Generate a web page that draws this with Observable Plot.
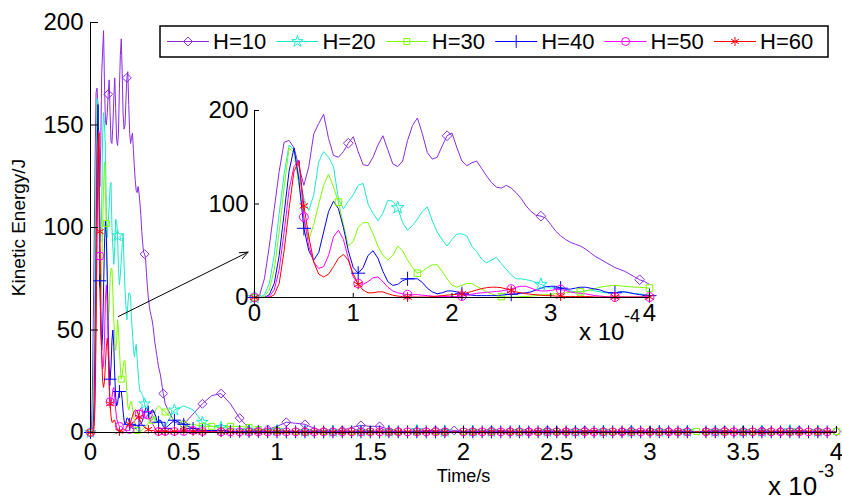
<!DOCTYPE html>
<html><head><meta charset="utf-8">
<script src="https://cdn.jsdelivr.net/npm/d3@7"></script>
<script src="https://cdn.jsdelivr.net/npm/@observablehq/plot@0.6"></script>
<style>
html,body{margin:0;padding:0;background:#fff;}
#wrap{position:relative;width:842px;height:500px;font-family:"Liberation Sans",Arial,sans-serif;overflow:hidden;}
#wrap > svg, #wrap > div{position:absolute;}
.lbl{position:absolute;white-space:nowrap;color:#000;line-height:1;}
</style></head><body><div id="wrap"></div>
<script>
// ---------- data (time in units of 1e-4 s, kinetic energy in J) ----------
const seriesNames = ["H=10","H=20","H=30","H=40","H=50","H=60"];
const seriesColors = ["#8a2be2","#1de9c9","#7cfc00","#0000ff","#ff00ff","#ff0000"];
const seriesSymbols = ["diamond2","star","square2","plus","circle","asterisk"];
const markerEvery = [0.975,1.45,0.83,0.52,0.52,0.52];

const timeE4 = [
0,0.05,0.1,0.15,0.2,0.25,0.3,0.35,0.4,0.45,
0.5,0.55,0.6,0.65,0.7,0.75,0.8,0.85,0.9,0.95,
1,1.05,1.1,1.15,1.2,1.25,1.3,1.35,1.4,1.45,
1.5,1.55,1.6,1.65,1.7,1.75,1.8,1.85,1.9,1.95,
2,2.05,2.1,2.15,2.2,2.25,2.3,2.35,2.4,2.45,
2.5,2.55,2.6,2.65,2.7,2.75,2.8,2.85,2.9,2.95,
3,3.05,3.1,3.15,3.2,3.25,3.3,3.35,3.4,3.45,
3.5,3.55,3.6,3.65,3.7,3.75,3.8,3.85,3.9,3.95,
4,
4.5,5,5.5,6,6.5,7,7.5,8,8.5,9,
9.5,10,10.5,11,11.5,12,12.5,13,13.5,14,
14.5,15,15.5,16,16.5,17,17.5,18,18.5,19,
19.5,20,20.5,21,21.5,22,22.5,23,23.5,24,
24.5,25,25.5,26,26.5,27,27.5,28,28.5,29,
29.5,30,30.5,31,31.5,32,32.5,33,33.5,34,
34.5,35,35.5,36,36.5,37,37.5,38,38.5,39,
39.5,40];

const h10 = [
0,2,20,55,95,135,166,168,160,140,
120,140,175,186,196,170,152,150,156,165,
172,156,142,141,150,163,173,158,143,140,
146,168,184,192,175,155,148,150,162,173,
176,160,146,141,144,146,138,130,123,118,
117,120,117,112,106,98,92,88,87,85,
78,71,66,62,59,57,55,52,48,44,
41,38,35,32,30,28,25,22,19,17,
14,
5,4,9,14,18,19,14,7,2,1,
1.5,3,5,4.5,4,2,0.5,0.5,1,2.5,
3.5,3,3,1.5,0.5,0.5,0.5,1,1,1.5,
1,0.5,0.5,0.5,1,1,0.5,0.5,0.5,1,
1,0.5,0.5,0.5,1,1,0.5,0.5,0.5,1,
1,0.5,0.5,0.5,1,0.5,0.5,0.5,1,1,
0.5,0.5,0.5,1,0.5,0.5,0.5,1,0.5,0.5,
0.5,0.5];

const h20 = [
0,0,3,15,45,90,132,163,158,130,
106,93,110,145,156,150,140,105,95,103,
110,120,122,100,90,82,90,104,103,96,
80,72,77,84,92,97,82,70,62,55,
62,68,68,66,55,49,41,37,40,43,
36,30,24,20,20,19,18,16,14,12,
10,11,11,9,7,6,6,7,8,7,
6,5,5,5,6,6,5,4,4,3,
3,
11,13,11,5,3,2.5,2,1.5,1,1,
1.5,1,1,0.5,0.5,1,1,0.5,0.5,0.5,
0.5,1,0.5,0.5,0.5,0.5,1,0.5,0.5,0.5,
0.5,0.5,0.5,1,0.5,0.5,0.5,0.5,0.5,0.5,
0.5,0.5,1,0.5,0.5,0.5,0.5,0.5,0.5,0.5,
0.5,0.5,0.5,0.5,1,0.5,0.5,0.5,0.5,0.5,
0.5,0.5,0.5,0.5,0.5,0.5,1,0.5,0.5,0.5,
0.5,0.5];

const h30 = [
0,0,1,8,30,70,118,160,155,120,
85,62,78,100,120,132,118,102,78,55,
60,75,80,80,68,55,45,40,45,55,
50,40,32,26,28,32,35,35,28,20,
13,11,13,15,15,12,9,6,4,2,
1,0.5,0.5,0.5,1,1,1.5,2,2.5,3,
3.5,4,4.5,5,5.5,6,6,7,8,9.5,
11,12,12.5,13,12.5,12,11.5,11,11,10.5,
10,
6,4,4,3,3,2.5,3,3,2.5,1.5,
1,1,0.5,0.5,0.5,0.5,0.5,0.5,0.5,0.5,
0.5,0.5,0.5,0.5,0.5,0.5,0.5,0.5,0.5,0.5,
0.5,0.5,0.5,0.5,0.5,0.5,0.5,0.5,0.5,0.5,
0.5,0.5,0.5,0.5,0.5,0.5,0.5,0.5,0.5,0.5,
0.5,0.5,0.5,0.5,0.5,0.5,0.5,0.5,0.5,0.5,
0.5,0.5,0.5,0.5,0.5,0.5,0.5,0.5,0.5,0.5,
0.5,0.5];

const h40 = [
0,0,0,3,15,45,90,135,160,125,
74,50,40,48,70,92,103,95,75,50,
32,26,32,45,50,42,28,17,13,14,
18,20,20,20,16,10,6,4,5,7,
7,6,4,3,2.5,2,2,2,2,2,
2.5,3,3.5,4,4.5,5,6,8,10,11.5,
12,12,10,9,9,10,11,11,10,9,
8,6,5,5,6,6,5,4,3,2.5,
2,
6,4,2,1,1,1,0.5,0.5,0.5,0.5,
0.3,0.3,0.3,0.3,0.3,0.3,0.3,0.3,0.3,0.3,
0.3,0.3,0.3,0.3,0.3,0.3,0.3,0.3,0.3,0.3,
0.3,0.3,0.3,0.3,0.3,0.3,0.3,0.3,0.3,0.3,
0.3,0.3,0.3,0.3,0.3,0.3,0.3,0.3,0.3,0.3,
0.3,0.3,0.3,0.3,0.3,0.3,0.3,0.3,0.3,0.3,
0.3,0.3,0.3,0.3,0.3,0.3,0.3,0.3,0.3,0.3,
0.3,0.3];

const h50 = [
0,0,0,1,8,30,70,115,140,147,
86,55,38,31,33,45,65,72,62,42,
22,15,14,17,21,22,17,11,7,5,
4,3,3,3,2.5,2,1.5,1,1,1,
1,1,1.5,2.5,3.5,4.5,5,5.5,6,6.5,
7,8,9,11,12,12,10,8,7,7,
7.5,8.5,8.5,7.5,6,5,4.5,4,3,2,
1.5,1,0.5,0.5,0.5,0.5,0.5,0.5,0.5,0.5,
0.5,
0.5,0.5,1,0.5,0.5,0.3,0.3,0.3,0.3,0.3,
0.3,0.3,0.3,0.3,0.3,0.3,0.3,0.3,0.3,0.3,
0.3,0.3,0.3,0.3,0.3,0.3,0.3,0.3,0.3,0.3,
0.3,0.3,0.3,0.3,0.3,0.3,0.3,0.3,0.3,0.3,
0.3,0.3,0.3,0.3,0.3,0.3,0.3,0.3,0.3,0.3,
0.3,0.3,0.3,0.3,0.3,0.3,0.3,0.3,0.3,0.3,
0.3,0.3,0.3,0.3,0.3,0.3,0.3,0.3,0.3,0.3,
0.3,0.3];

const h60 = [
0,0,0,0,3,15,50,95,135,146,
98,65,38,25,22,25,33,42,46,40,
25,14,8,5,5,6,6,4,2.5,1.5,
1,0.5,0.5,0.5,0.5,0.5,1,1.5,2,2.5,
3,3.5,4,5,6.5,8,9.5,10.5,11,11,
10.5,9,7.5,6,5,4,3.5,3,2.5,2,
2,1.5,1.5,1,1,1,1,1,1,0.5,
0.5,0.5,0.5,0.5,0.5,0.5,0.5,0.5,0.5,0.5,
0.5,
0.5,1,0.5,0.3,0.3,0.3,0.3,0.3,0.3,0.3,
0.3,0.3,0.3,0.3,0.3,0.3,0.3,0.3,0.3,0.3,
0.3,0.3,0.3,0.3,0.3,0.3,0.3,0.3,0.3,0.3,
0.3,0.3,0.3,0.3,0.3,0.3,0.3,0.3,0.3,0.3,
0.3,0.3,0.3,0.3,0.3,0.3,0.3,0.3,0.3,0.3,
0.3,0.3,0.3,0.3,0.3,0.3,0.3,0.3,0.3,0.3,
0.3,0.3,0.3,0.3,0.3,0.3,0.3,0.3,0.3,0.3,
0.3,0.3];

const mainXTicks = [0,0.5,1,1.5,2,2.5,3,3.5,4];     // units of 1e-3 s
const mainYTicks = [0,50,100,150,200];
const insetXTicks = [0,1,2,3,4];                      // units of 1e-4 s
const insetYTicks = [0,100,200];
const arrowPts = [{x1:0.15, y1:56.6, x2:0.845, y2:88}]; // main-plot data coords
const yLabel = "Kinetic Energy/J";
const xLabel = "Time/s";

// ---------- build ----------
const FONT = "'Liberation Sans', Arial, Helvetica, sans-serif";
const seriesValues = [h10,h20,h30,h40,h50,h60];
const rows = [];
seriesValues.forEach((vals,k)=>vals.forEach((v,i)=>{ if(i<timeE4.length) rows.push({t:timeE4[i], v, s:seriesNames[k]}); }));
function markerIdx(interval){
  const set = new Set();
  for(let n=0; n*interval <= 40.0001; n++){
    const m = n*interval; let best=0, bd=Infinity;
    timeE4.forEach((t,i)=>{const d=Math.abs(t-m); if(d<bd){bd=d;best=i;}});
    set.add(best);
  }
  return [...set];
}
const markRows = seriesValues.map((vals,k)=>markerIdx(markerEvery[k]).filter(i=>i<vals.length).map(i=>({t:timeE4[i], v:vals[i], s:seriesNames[k]})));
const markR = [4,3.6,3.8,4.2,4,4.2];
const color = {domain:seriesNames, range:seriesColors};
const wrap = document.getElementById("wrap");

function dotMarks(xf, filt, scale){
  return markRows.map((arr,k)=>Plot.dot(arr.filter(filt),{x:xf, y:"v", stroke:seriesColors[k], symbol:seriesSymbols[k], r:markR[k]*scale, fill:"none", strokeWidth:1}));
}

// main plot
const W=842,H=500,mL=90,mR=6,mT=22,mB=68;
const pW=W-mL-mR, pH=H-mT-mB;
const main = Plot.plot({
  width:W, height:H, marginLeft:mL, marginRight:mR, marginTop:mT, marginBottom:mB,
  style:{fontFamily:FONT, fontSize:"24px", background:"transparent", overflow:"visible", color:"#000"},
  x:{domain:[0,4]}, y:{domain:[0,200]}, color,
  marks:[
    Plot.line(rows,{x:d=>d.t/10, y:"v", z:"s", stroke:"s", strokeWidth:1}),
    ...dotMarks(d=>d.t/10, ()=>true, 1),
    Plot.ruleX([0],{stroke:"#000", strokeWidth:1}),
    Plot.ruleY([0],{stroke:"#000", strokeWidth:1}),
    Plot.tickY(mainYTicks,{y:d=>d, insetRight:pW-8, stroke:"#000"}),
    Plot.tickX(mainXTicks,{x:d=>d, insetTop:pH-6, stroke:"#000"}),
    Plot.axisX(mainXTicks,{tickSize:0, tickPadding:10, label:null, tickFormat:d=>String(d), fontSize:24}),
    Plot.axisY(mainYTicks,{tickSize:0, tickPadding:7, label:null, tickFormat:d=>String(d), fontSize:24}),
    Plot.arrow(arrowPts,{x1:"x1",y1:"y1",x2:"x2",y2:"y2", stroke:"#000", strokeWidth:1, headLength:13, headAngle:45}),
    Plot.text([yLabel],{frameAnchor:"left", textAnchor:"middle", lineAnchor:"middle", rotate:-90, dx:-72, fontSize:19}),
    Plot.text([xLabel],{frameAnchor:"bottom", textAnchor:"middle", lineAnchor:"middle", dy:44, fontSize:18})
  ]
});
main.style.left="0px"; main.style.top="0px";
wrap.appendChild(main);

// inset plot
const iL=50,iR=10,iT=10,iB=45,iW=455,iH=242;
const ipW=iW-iL-iR, ipH=iH-iT-iB;
const insetRows = rows.filter(d=>d.t<=4.0001);
const inset = Plot.plot({
  width:iW, height:iH, marginLeft:iL, marginRight:iR, marginTop:iT, marginBottom:iB,
  style:{fontFamily:FONT, fontSize:"24px", background:"transparent", overflow:"visible", color:"#000"},
  x:{domain:[0,4]}, y:{domain:[0,200]}, color,
  marks:[
    Plot.line(insetRows,{x:"t", y:"v", z:"s", stroke:"s", strokeWidth:1}),
    ...dotMarks("t", d=>d.t<=4.0001, 1.1),
    Plot.ruleX([0],{stroke:"#000"}),
    Plot.ruleY([0],{stroke:"#000"}),
    Plot.tickY(insetYTicks,{y:d=>d, insetRight:ipW-5, stroke:"#000"}),
    Plot.tickX(insetXTicks,{x:d=>d, insetTop:ipH-4, stroke:"#000"}),
    Plot.axisX(insetXTicks,{tickSize:0, tickPadding:6, label:null, tickFormat:d=>String(d), fontSize:24}),
    Plot.axisY(insetYTicks,{tickSize:0, tickPadding:6, label:null, tickFormat:d=>String(d), fontSize:24})
  ]
});
inset.style.left="204px"; inset.style.top="100px";
wrap.appendChild(inset);

// exponent labels
function addLbl(html,left,top,size){
  const d=document.createElement("div"); d.className="lbl"; d.innerHTML=html;
  d.style.left=left+"px"; d.style.top=top+"px"; d.style.fontSize=size+"px"; wrap.appendChild(d);
}
addLbl("x 10",768,473,26);
addLbl("-3",818,462,18);
addLbl("x 10",579,320,24);
addLbl("-4",624,307,18);

// legend
const lg = d3.select(wrap).append("svg").attr("width",670).attr("height",33)
  .style("left","159px").style("top","25px").style("font-family",FONT);
lg.append("rect").attr("x",1).attr("y",1).attr("width",668).attr("height",31)
  .attr("fill","#fff").attr("stroke","#000").attr("stroke-width",1.5);
const symMap = {diamond2:d3.symbolDiamond2, star:d3.symbolStar, square2:d3.symbolSquare2, plus:d3.symbolPlus, circle:d3.symbolCircle, asterisk:d3.symbolAsterisk};
seriesNames.forEach((name,k)=>{
  const x0 = 8 + 109.4*k, x1 = x0 + 42, cy = 16.5;
  const g = lg.append("g");
  g.append("line").attr("x1",x0).attr("x2",x1).attr("y1",cy).attr("y2",cy).attr("stroke",seriesColors[k]).attr("stroke-width",1);
  g.append("path").attr("d",d3.symbol(symMap[seriesSymbols[k]], Math.PI*markR[k]*markR[k])()).attr("transform",`translate(${(x0+x1)/2},${cy})`)
    .attr("fill","none").attr("stroke",seriesColors[k]).attr("stroke-width",1);
  g.append("text").attr("x",x1+4).attr("y",cy).attr("dy","0.35em").attr("font-size",22).attr("fill","#000").text(name);
});
</script></body></html>
